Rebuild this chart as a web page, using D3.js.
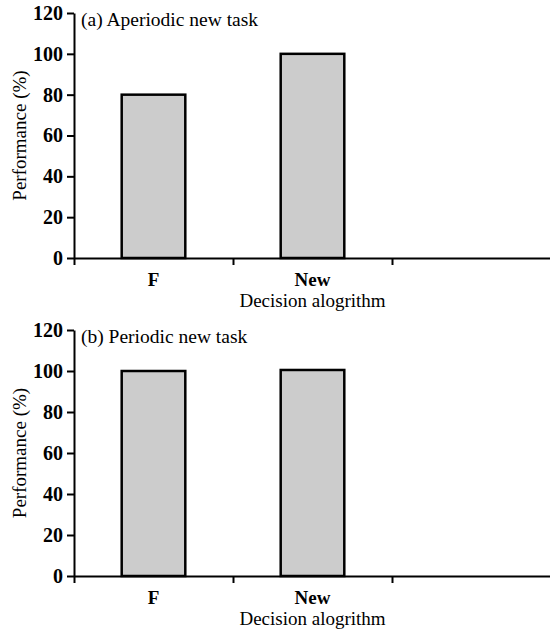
<!DOCTYPE html>
<html lang="en">
  <head>
    <meta charset="utf-8">
    <title>Performance by decision algorithm</title>
    <script src="https://cdn.jsdelivr.net/npm/d3@7"></script>
  </head>
  <body style="margin:0; background:#fff;">
    <div id="svg-area"></div>
    <script>
      const svg_width = 550;
      const svg_height = 635;
      const serif = "'Liberation Serif'";

      const categories = ['F', 'New', ''];
      const panelTitles = ['(a) Aperiodic new task', '(b) Periodic new task'];
      const aperiodicValues = [80, 100, null];
      const periodicValues = [100, 100.5, null];
      const yTicks = [0, 20, 40, 60, 80, 100, 120];

      const svg = d3.select('#svg-area')
        .append('svg')
        .attr('width', svg_width)
        .attr('height', svg_height);

      //one panel per task type
      const panels = [
        {title: panelTitles[0], values: aperiodicValues, top: 13, bottom: 258},
        {title: panelTitles[1], values: periodicValues, top: 330, bottom: 576}
      ];

      const left = 74;
      const right = 551;

      //axis styling helper
      const style_axis = (sel) => {
        sel.attr('font-family', null).attr('font-size', null);
        sel.selectAll('path, line').attr('stroke', '#000').attr('stroke-width', 2);
        sel.selectAll('text')
          .style('font-family', serif)
          .style('font-size', '20px')
          .style('font-weight', 'bold')
          .attr('fill', '#000');
      };

      panels.forEach((p) => {
        const g = svg.append('g');

        const x_scale = d3.scaleBand()
          .domain(categories)
          .range([left, right])
          .paddingInner(0.6)
          .paddingOuter(0.3);

        //band boundaries for the x tick marks
        const edge_scale = d3.scaleLinear()
          .domain([0, categories.length])
          .range([left, right]);

        const y_scale = d3.scaleLinear()
          .domain([0, 120])
          .range([p.bottom, p.top]);

        //bars
        g.selectAll('rect')
          .data(p.values.map((v, i) => ({cat: categories[i], v: v})).filter(d => d.v !== null))
          .enter()
          .append('rect')
          .attr('x', d => x_scale(d.cat))
          .attr('width', x_scale.bandwidth())
          .attr('y', d => y_scale(d.v))
          .attr('height', d => y_scale(0) - y_scale(d.v))
          .attr('fill', '#cccccc')
          .attr('stroke', '#000')
          .attr('stroke-width', 2.5);

        //y axis
        g.append('g')
          .attr('transform', `translate(${left},0)`)
          .call(d3.axisLeft(y_scale).tickValues(yTicks).tickSize(7).tickSizeOuter(0).tickPadding(4))
          .call(style_axis);

        //x axis
        g.append('g')
          .attr('transform', `translate(0,${p.bottom})`)
          .call(d3.axisBottom(edge_scale).tickValues(d3.range(categories.length + 1)).tickFormat('').tickSize(7).tickSizeOuter(0))
          .call(style_axis);

        //category labels
        g.selectAll('.cat')
          .data(categories.filter(c => c !== ''))
          .enter()
          .append('text')
          .attr('class', 'cat')
          .attr('x', d => x_scale(d) + x_scale.bandwidth() / 2)
          .attr('y', p.bottom + 28)
          .attr('text-anchor', 'middle')
          .style('font-family', serif)
          .style('font-size', '19px')
          .style('font-weight', 'bold')
          .text(d => d);

        g.append('text')
          .attr('x', x_scale('New') + x_scale.bandwidth() / 2)
          .attr('y', p.bottom + 49)
          .attr('text-anchor', 'middle')
          .style('font-family', serif)
          .style('font-size', '19px')
          .text('Decision alogrithm');

        //panel title
        g.append('text')
          .attr('x', left + 7)
          .attr('y', p.top + 13)
          .style('font-family', serif)
          .style('font-size', '19.5px')
          .text(p.title);

        //y label
        g.append('text')
          .attr('transform', `translate(26,${(p.top + p.bottom) / 2}) rotate(-90)`)
          .attr('text-anchor', 'middle')
          .style('font-family', serif)
          .style('font-size', '19px')
          .text('Performance (%)');
      });
    </script>
  </body>
</html>
